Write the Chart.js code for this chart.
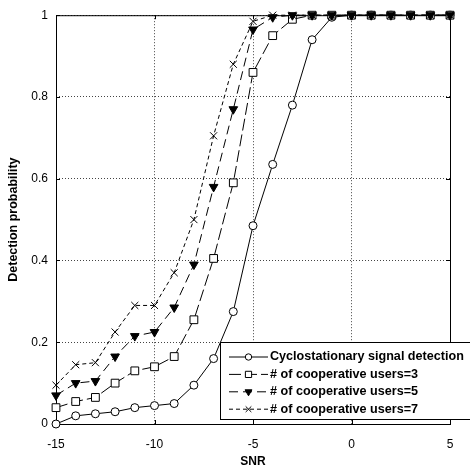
<!DOCTYPE html>
<html>
<head>
<meta charset="utf-8">
<script src="https://cdn.jsdelivr.net/npm/chart.js@4"></script>
<style>
  html, body { margin: 0; padding: 0; background: #fff; }
  #wrap { position: relative; width: 470px; height: 473px; }
</style>
</head>
<body>
<div id="wrap"><canvas id="chart"></canvas></div>
<script>
  "use strict";

  // SNR (dB) sample points
  const snr = [-15, -14, -13, -12, -11, -10, -9, -8, -7, -6, -5, -4, -3, -2, -1, 0, 1, 2, 3, 4, 5];

  // detection probability
  const cyclo = [0.0, 0.02, 0.025, 0.03, 0.04, 0.045, 0.05, 0.095, 0.16, 0.275, 0.485, 0.635, 0.78, 0.94, 0.995, 1, 1, 1, 1, 1, 1];
  const users3 = [0.04, 0.055, 0.065, 0.1, 0.13, 0.14, 0.165, 0.255, 0.405, 0.59, 0.86, 0.95, 0.99, 1, 1, 1, 1, 1, 1, 1, 1];
  const users5 = [0.07, 0.1, 0.105, 0.165, 0.215, 0.225, 0.285, 0.39, 0.58, 0.77, 0.965, 0.995, 1, 1, 1, 1, 1, 1, 1, 1, 1];
  const users7 = [0.095, 0.145, 0.15, 0.225, 0.29, 0.29, 0.37, 0.5, 0.705, 0.88, 0.985, 1, 1, 1, 1, 1, 1, 1, 1, 1, 1];

  const seriesLabels = [
    "Cyclostationary signal detection",
    "# of cooperative users=3",
    "# of cooperative users=5",
    "# of cooperative users=7",
  ];

  const xTicks = [-15, -10, -5, 0, 5];
  const yTicks = [0, 0.2, 0.4, 0.6, 0.8, 1];

  const FONT = "'Liberation Sans', Arial, sans-serif";

  function toPoints(values) {
    return snr.map((x, i) => ({ x, y: values[i] }));
  }

  // axes box with small inward ticks, like the original figure
  const axesBox = {
    id: "axesBox",
    beforeDatasetsDraw(chart) {
      const { ctx, chartArea: a, scales } = chart;
      ctx.save();
      ctx.strokeStyle = "#000";
      ctx.lineWidth = 1;
      ctx.setLineDash([]);
      ctx.strokeRect(a.left + 0.5, a.top + 0.5, a.right - a.left, a.bottom - a.top);
      ctx.beginPath();
      xTicks.forEach((v) => {
        const px = Math.round(scales.x.getPixelForValue(v)) + 0.5;
        ctx.moveTo(px, a.bottom); ctx.lineTo(px, a.bottom - 4);
        ctx.moveTo(px, a.top); ctx.lineTo(px, a.top + 4);
      });
      yTicks.forEach((v) => {
        const py = Math.round(scales.y.getPixelForValue(v)) + 0.5;
        ctx.moveTo(a.left, py); ctx.lineTo(a.left + 4, py);
        ctx.moveTo(a.right, py); ctx.lineTo(a.right - 4, py);
      });
      ctx.stroke();
      ctx.restore();
    },
  };

  // boxed legend in the lower right corner of the plot
  const boxLegend = {
    id: "boxLegend",
    afterDraw(chart) {
      const { ctx, chartArea: a } = chart;
      const left = a.right - 230;
      const top = a.bottom - 82;
      const w = 250;
      const h = 77;
      ctx.save();
      ctx.fillStyle = "#fff";
      ctx.fillRect(left, top, w, h);
      ctx.strokeStyle = "#000";
      ctx.lineWidth = 1;
      ctx.strokeRect(left + 0.5, top + 0.5, w, h);

      chart.data.datasets.forEach((ds, i) => {
        const opts = chart.getDatasetMeta(i).data[0].options;
        const cy = top + 15 + i * 17.4;
        const x1 = left + 9;
        const x2 = left + 48;
        ctx.strokeStyle = "#000";
        ctx.lineWidth = 1;
        ctx.setLineDash(ds.borderDash || []);
        ctx.beginPath();
        ctx.moveTo(x1, cy);
        ctx.lineTo(x2, cy);
        ctx.stroke();
        ctx.setLineDash([]);
        ctx.fillStyle = opts.backgroundColor;
        ctx.strokeStyle = opts.borderColor;
        Chart.helpers.drawPoint(ctx, {
          pointStyle: opts.pointStyle,
          rotation: opts.rotation,
          radius: opts.radius * 0.8,
          borderWidth: opts.borderWidth,
        }, (x1 + x2) / 2, cy);
        ctx.fillStyle = "#000";
        ctx.font = "bold 12.6px " + FONT;
        ctx.textBaseline = "middle";
        ctx.fillText(ds.label, x2 + 2, cy);
      });
      ctx.restore();
    },
  };

  const common = {
    borderColor: "#000",
    borderWidth: 1,
    pointBorderColor: "#000",
    pointBorderWidth: 1,
    tension: 0,
    fill: false,
    clip: false,
  };

  new Chart(document.getElementById("chart"), {
    type: "line",
    data: {
      datasets: [
        {
          ...common,
          label: seriesLabels[0],
          data: toPoints(cyclo),
          order: 4,
          pointStyle: "circle",
          pointRadius: 4,
          pointBackgroundColor: "#fff",
        },
        {
          ...common,
          label: seriesLabels[1],
          data: toPoints(users3),
          order: 3,
          borderDash: [12, 4],
          pointStyle: "rect",
          pointRadius: 5.5,
          pointBackgroundColor: "#fff",
        },
        {
          ...common,
          label: seriesLabels[2],
          data: toPoints(users5),
          order: 2,
          borderDash: [9, 5],
          pointStyle: "triangle",
          pointRotation: 180,
          pointRadius: 5,
          pointBackgroundColor: "#000",
        },
        {
          ...common,
          label: seriesLabels[3],
          data: toPoints(users7),
          order: 1,
          borderDash: [4, 3],
          pointStyle: "crossRot",
          pointRadius: 5,
          pointBackgroundColor: "#000",
        },
      ],
    },
    options: {
      responsive: true,
      maintainAspectRatio: false,
      animation: false,
      layout: { padding: { top: 13, right: 20, left: 0, bottom: 0 } },
      plugins: {
        legend: { display: false },
        tooltip: { enabled: false },
      },
      scales: {
        x: {
          type: "linear",
          min: -15,
          max: 5,
          afterFit: (scale) => { scale.height = 49; },
          afterBuildTicks: (scale) => { scale.ticks = xTicks.map((v) => ({ value: v })); },
          ticks: {
            color: "#000",
            padding: 13,
            font: { family: FONT, size: 12 },
            callback: (v) => String(v),
          },
          grid: { color: "#444", drawTicks: false, lineWidth: 1 },
          border: { display: false, dash: [1, 2] },
          title: {
            display: true,
            text: "SNR",
            color: "#000",
            font: { family: FONT, size: 12, weight: "bold" },
            padding: { top: 2 },
          },
        },
        y: {
          type: "linear",
          min: 0,
          max: 1,
          afterFit: (scale) => { scale.width = 56; },
          afterBuildTicks: (scale) => { scale.ticks = yTicks.map((v) => ({ value: v })); },
          ticks: {
            color: "#000",
            padding: 8,
            font: { family: FONT, size: 12 },
            callback: (v) => String(Math.round(v * 10) / 10),
          },
          grid: { color: "#444", drawTicks: false, lineWidth: 1 },
          border: { display: false, dash: [1, 2] },
          title: {
            display: true,
            text: "Detection probability",
            color: "#000",
            font: { family: FONT, size: 12.5, weight: "bold" },
            padding: { top: 6, bottom: 2 },
          },
        },
      },
    },
    plugins: [axesBox, boxLegend],
  });
</script>
</body>
</html>
